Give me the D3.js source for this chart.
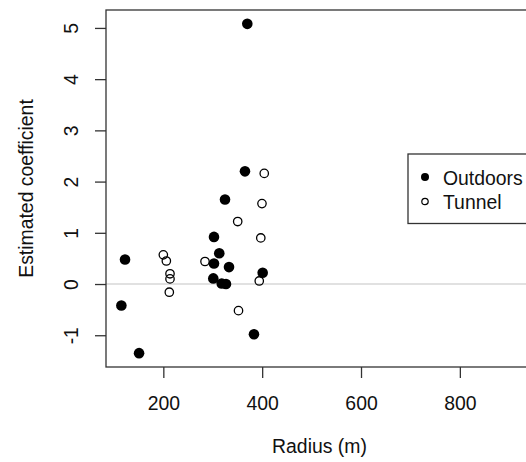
<!DOCTYPE html>
<html>
<head>
<meta charset="utf-8">
<script src="https://cdn.jsdelivr.net/npm/d3@7"></script>
<style>
  html, body { margin: 0; padding: 0; background: #fff; }
  svg { display: block; font-family: "Liberation Sans", Arial, Helvetica, sans-serif; }
</style>
</head>
<body>
<svg id="chart" width="526" height="462"></svg>
<script>
// ---- data ----
const outdoorsX = [369.9, 365.2, 324.8, 302.5, 313.2, 302.5, 332.9, 301.1, 318.1, 326.8, 401.0, 122.5, 115.1, 150.9, 383.4];
const outdoorsY = [5.08, 2.20, 1.65, 0.92, 0.60, 0.40, 0.33, 0.11, 0.01, 0.00, 0.22, 0.48, -0.42, -1.35, -0.98];
const tunnelX = [404.2, 399.6, 350.5, 397.2, 200.0, 206.1, 284.3, 213.5, 213.5, 212.1, 394.1, 352.1];
const tunnelY = [2.16, 1.57, 1.22, 0.90, 0.57, 0.45, 0.44, 0.20, 0.10, -0.16, 0.06, -0.52];
const xTicks = [200, 400, 600, 800];
const yTicks = [-1, 0, 1, 2, 3, 4, 5];
const seriesNames = ["Outdoors", "Tunnel"];
const xTitle = "Radius (m)";
const yTitle = "Estimated coefficient";

// ---- layout ----
const pLeft = 106, pRight = 533, pTop = 10, pBottom = 367;
const fs = 19.4;
const svg = d3.select("#chart");

const x = d3.scaleLinear().domain([84, 948]).range([pLeft, pRight]);
const y = d3.scaleLinear().domain([-1.62, 5.35]).range([pBottom, pTop]);
const plainFmt = d => String(d);

// zero reference line
svg.append("line")
  .attr("x1", pLeft).attr("x2", pRight)
  .attr("y1", y(0)).attr("y2", y(0))
  .attr("stroke", "#c4c4c4").attr("stroke-width", 1.2);

// points
const outdoors = outdoorsX.map((v, i) => ({ x: v, y: outdoorsY[i] }));
const tunnel = tunnelX.map((v, i) => ({ x: v, y: tunnelY[i] }));

svg.append("g").selectAll("circle").data(tunnel).join("circle")
  .attr("cx", d => x(d.x)).attr("cy", d => y(d.y)).attr("r", 4.2)
  .attr("fill", "none").attr("stroke", "#000").attr("stroke-width", 1.3);

svg.append("g").selectAll("circle").data(outdoors).join("circle")
  .attr("cx", d => x(d.x)).attr("cy", d => y(d.y)).attr("r", 5.3)
  .attr("fill", "#000");

// box
svg.append("rect")
  .attr("x", pLeft).attr("y", pTop)
  .attr("width", pRight - pLeft).attr("height", pBottom - pTop)
  .attr("fill", "none").attr("stroke", "#333").attr("stroke-width", 1.3);

// x axis
const gx = svg.append("g")
  .attr("transform", `translate(0,${pBottom})`)
  .call(d3.axisBottom(x).tickValues(xTicks).tickSize(11).tickPadding(18.5).tickFormat(plainFmt));
gx.select(".domain").remove();
gx.selectAll(".tick line").attr("stroke", "#333").attr("stroke-width", 1.3);
gx.selectAll(".tick text").attr("font-size", fs).attr("fill", "#111")
  .attr("font-family", "Liberation Sans, Arial, sans-serif");

// y axis
const gy = svg.append("g")
  .attr("transform", `translate(${pLeft},0)`)
  .call(d3.axisLeft(y).tickValues(yTicks).tickSize(11).tickFormat(plainFmt));
gy.select(".domain").remove();
gy.selectAll(".tick line").attr("stroke", "#333").attr("stroke-width", 1.3);
gy.selectAll(".tick text")
  .attr("font-size", fs).attr("fill", "#111")
  .attr("font-family", "Liberation Sans, Arial, sans-serif")
  .attr("text-anchor", "middle")
  .attr("x", 0).attr("y", -28).attr("dy", 0)
  .attr("transform", "rotate(-90)");

// axis titles
svg.append("text")
  .attr("x", (pLeft + pRight) / 2).attr("y", 453)
  .attr("text-anchor", "middle").attr("font-size", fs).attr("fill", "#111")
  .text(xTitle);
svg.append("text")
  .attr("transform", `translate(33,${(pTop + pBottom) / 2}) rotate(-90)`)
  .attr("text-anchor", "middle").attr("font-size", fs).attr("fill", "#111")
  .text(yTitle);

// legend
const lg = svg.append("g");
lg.append("rect")
  .attr("x", 408).attr("y", 154)
  .attr("width", 160).attr("height", 69.5)
  .attr("fill", "#fff").attr("stroke", "#333").attr("stroke-width", 1.3);
const legendRows = seriesNames.map((n, i) => ({ name: n, i }));
const row = lg.selectAll("g.row").data(legendRows).join("g")
  .attr("class", "row")
  .attr("transform", d => `translate(0,${177 + d.i * 24.5})`);
row.filter(d => d.i === 0).append("circle")
  .attr("cx", 425).attr("cy", 0).attr("r", 4).attr("fill", "#000");
row.filter(d => d.i === 1).append("circle")
  .attr("cx", 425).attr("cy", 0).attr("r", 3.2)
  .attr("fill", "none").attr("stroke", "#000").attr("stroke-width", 1.2);
row.append("text")
  .attr("x", 443).attr("y", 7.7)
  .attr("font-size", fs).attr("fill", "#111")
  .text(d => d.name);
</script>
</body>
</html>
